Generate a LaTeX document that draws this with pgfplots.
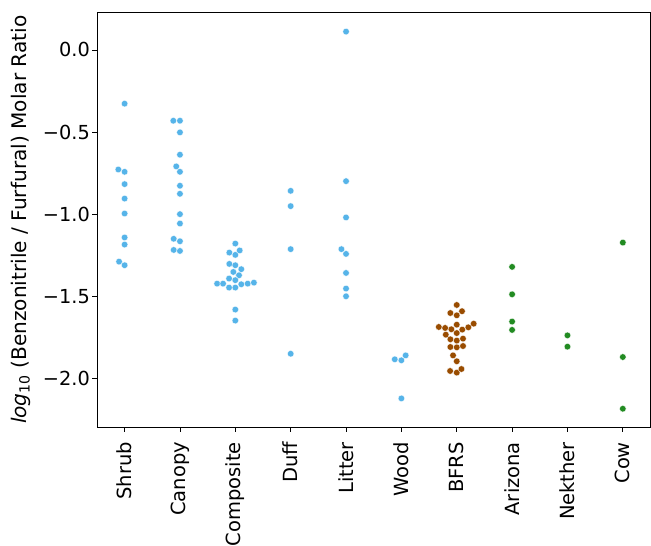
\documentclass[border=0pt]{standalone}
\usepackage{pgfplots}
\pgfplotsset{compat=1.18}
\usepackage{fontspec}
\setmainfont{DejaVu Sans}
\definecolor{cblue}{HTML}{56B4E9}
\definecolor{cbrown}{HTML}{994C00}
\definecolor{cgreen}{HTML}{228B22}
\begin{document}
\begin{tikzpicture}
\begin{axis}[
  scale only axis,
  width=554bp, height=414.6bp,
  xmin=-0.5, xmax=9.5,
  ymin=-2.296, ymax=0.227,
  xtick={0,1,2,3,4,5,6,7,8,9},
  xticklabels={Shrub,Canopy,Composite,Duff,Litter,Wood,BFRS,Arizona,Nekther,Cow},
  ytick={-2,-1.5,-1,-0.5,0},
  yticklabels={−2.0,−1.5,−1.0,−0.5,0.0},
  tick align=outside,
  tick pos=left,
  major tick length=4.9bp,
  every tick/.style={black, line width=0.8pt},
  axis line style={black, line width=0.8pt},
  xticklabel shift=8bp,
  x tick label style={rotate=90, anchor=east, font=\fontsize{19.6}{23}\selectfont, inner sep=2pt},
  y tick label style={font=\fontsize{19.4}{23}\selectfont, inner sep=2pt},
  ylabel={{\itshape log}\textsubscript{10} (Benzonitrile / Furfural) Molar Ratio},
  ylabel style={font=\fontsize{20.2}{24}\selectfont},
  ylabel shift=7bp,
  every axis plot/.style={only marks, mark=*, mark size=3.3pt, line width=0.3pt},
  clip=false,
]
\addplot[mark options={fill=cblue, draw=white}] coordinates {
 (0,-0.327) (-0.113,-0.728) (0,-0.742) (0,-0.817) (0,-0.905) (0,-0.996) (0,-1.142) (0,-1.185) (-0.10,-1.289) (0,-1.311)
 (0.88,-0.431) (1,-0.431) (1,-0.502) (1,-0.638) (0.933,-0.709) (1,-0.742) (1,-0.827) (1,-0.876) (1,-1.000) (1,-1.057) (0.887,-1.150) (1,-1.165) (0.887,-1.218) (1,-1.224)
 (2,-1.179) (1.892,-1.234) (2,-1.248) (2.079,-1.221) (1.892,-1.303) (2,-1.311) (2.108,-1.335) (1.964,-1.352) (2.067,-1.372) (1.887,-1.392) (2,-1.402) (1.671,-1.423) (1.779,-1.423) (2.108,-1.427) (2.223,-1.423) (2.336,-1.417) (1.887,-1.447) (2,-1.447) (2,-1.581) (2,-1.648)
 (3,-0.858) (3,-0.951) (3,-1.213) (3,-1.850)
 (4,0.112) (4,-0.799) (4,-1.020) (3.917,-1.213) (4,-1.242) (4,-1.358) (4,-1.453) (4,-1.500)
 (4.88,-1.884) (5,-1.890) (5.077,-1.860) (5,-2.122)
};
\addplot[mark options={fill=cbrown, draw=white}] coordinates {
 (6,-1.553) (5.885,-1.602) (6,-1.616) (6.095,-1.591) (5.676,-1.687) (5.79,-1.693) (5.903,-1.701) (6,-1.673) (6.1,-1.703) (6.209,-1.689) (6.306,-1.667) (5.802,-1.734) (6,-1.724) (5.885,-1.762) (6,-1.770) (6.113,-1.758) (5.885,-1.809) (6,-1.811) (6.113,-1.803) (5.933,-1.860) (6,-1.896) (5.88,-1.955) (6,-1.965) (6.085,-1.943)
};
\addplot[mark options={fill=cgreen, draw=white}] coordinates {
 (7,-1.321) (7,-1.488) (7,-1.654) (7,-1.705)
 (8,-1.738) (8,-1.807)
 (9,-1.173) (9,-1.870) (9,-2.185)
};
\coordinate (ll) at (rel axis cs:0,0);
\coordinate (ur) at (rel axis cs:1,1);
\end{axis}
\pgfresetboundingbox
\path[use as bounding box] ([shift={(-97bp,-118.7bp)}]ll) rectangle ([shift={(0.5bp,12.7bp)}]ur);
\end{tikzpicture}
\end{document}
